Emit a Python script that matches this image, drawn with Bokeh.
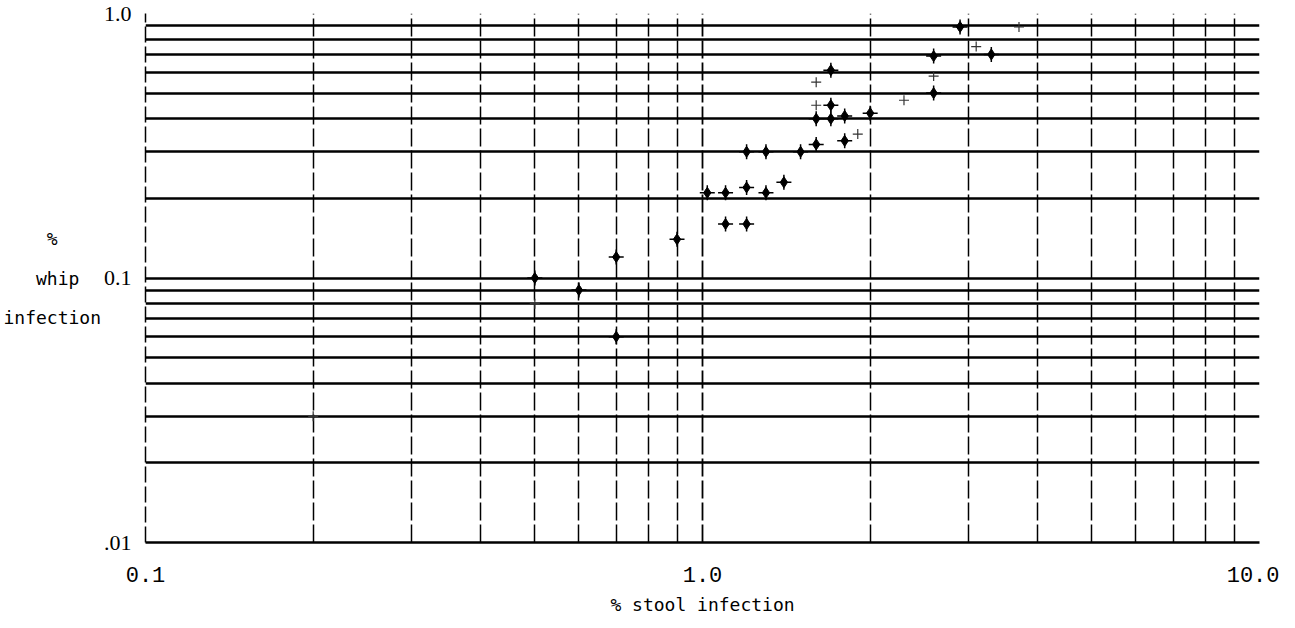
from bokeh.plotting import figure
from bokeh.models import FixedTicker, Range1d, ColumnDataSource
from bokeh.embed import file_html
from bokeh.resources import INLINE

# ---- data ----
x_ticks = [0.1, 1.0, 10.0]
x_tick_labels = ["0.1", "1.0", "10.0"]
y_ticks = [0.01, 0.1, 1.0]
y_tick_labels = [".01", "0.1", "1.0"]
x_minor = [0.2, 0.3, 0.4, 0.5, 0.6, 0.7, 0.8, 0.9, 2, 3, 4, 5, 6, 7, 8, 9]
y_minor = [0.02, 0.03, 0.04, 0.05, 0.06, 0.07, 0.08, 0.09,
           0.2, 0.3, 0.4, 0.5, 0.6, 0.7, 0.8, 0.9]

stool_dark = [0.5, 0.6, 0.7, 0.7, 0.9, 1.1, 1.2, 1.02, 1.1, 1.2, 1.3, 1.4,
              1.2, 1.3, 1.5, 1.6, 1.8, 1.6, 1.7, 1.8, 2.0, 1.7, 1.7, 2.6,
              3.3, 2.9, 2.6]
whip_dark = [0.10, 0.09, 0.12, 0.06, 0.14, 0.16, 0.16, 0.21, 0.21, 0.22, 0.21, 0.23,
             0.30, 0.30, 0.30, 0.32, 0.33, 0.40, 0.40, 0.41, 0.42, 0.45, 0.61, 0.69,
             0.70, 0.89, 0.50]

stool_faint = [0.2, 0.5, 1.9, 2.3, 2.6, 3.7, 3.1, 1.6, 1.6]
whip_faint = [0.03, 0.08, 0.35, 0.47, 0.58, 0.89, 0.75, 0.45, 0.55]

x_title = "% stool infection"
NB = "\u00a0"
y_title = "\n".join([NB * 4 + "%" + NB * 4,
                     NB * 3 + "whip" + NB * 2,
                     "infection"])

# ---- figure ----
p = figure(width=1279, height=620, x_axis_type="log", y_axis_type="log",
           x_range=Range1d(0.1, 10), y_range=Range1d(0.01, 1),
           output_backend="svg", toolbar_location=None,
           min_border_left=138, min_border_right=20,
           min_border_top=13, min_border_bottom=78)
p.outline_line_color = None
p.background_fill_color = "white"

p.xaxis.ticker = FixedTicker(ticks=x_ticks, minor_ticks=x_minor)
p.yaxis.ticker = FixedTicker(ticks=y_ticks, minor_ticks=y_minor)
p.xaxis.major_label_overrides = dict(zip(x_ticks, x_tick_labels))
p.yaxis.major_label_overrides = dict(zip(y_ticks, y_tick_labels))

for ax in (p.xaxis, p.yaxis):
    ax.major_tick_line_color = None
    ax.minor_tick_line_color = None
    ax.major_label_text_color = "black"
    ax.axis_label_text_color = "black"
    ax.axis_label_text_font_style = "normal"
    ax.axis_label_text_font = "DejaVu Sans Mono"
    ax.axis_label_text_font_size = "18px"

p.xaxis.axis_label = x_title
p.xaxis.axis_label_standoff = 9
p.xaxis.major_label_text_font = "Liberation Mono"
p.xaxis.major_label_text_font_size = "22px"
p.xaxis.major_label_standoff = 18
p.xaxis.axis_line_color = "black"
p.xaxis.axis_line_width = 2.5

p.yaxis.axis_label = y_title
p.yaxis.axis_label_orientation = "horizontal"
p.yaxis.axis_label_text_line_height = 1.9
p.yaxis.axis_label_standoff = 0
p.yaxis.major_label_text_font = "Liberation Serif"
p.yaxis.major_label_text_font_size = "22px"
p.yaxis.major_label_standoff = 8
p.yaxis.axis_line_color = "black"
p.yaxis.axis_line_width = 1.5
p.yaxis.axis_line_dash = "16 4"

# horizontal ruling: heavy solid lines
p.ygrid.grid_line_color = "black"
p.ygrid.grid_line_width = 2.5
p.ygrid.minor_grid_line_color = "black"
p.ygrid.minor_grid_line_width = 2.5

# vertical ruling: broken lines
p.xgrid.grid_line_color = "black"
p.xgrid.grid_line_width = 1.8
p.xgrid.grid_line_dash = "18 4"
p.xgrid.minor_grid_line_color = "black"
p.xgrid.minor_grid_line_width = 1.5
p.xgrid.minor_grid_line_dash = "18 4"

src_d = ColumnDataSource(dict(x=stool_dark, y=whip_dark))
src_f = ColumnDataSource(dict(x=stool_faint, y=whip_faint))

p.scatter("x", "y", source=src_d, marker="diamond", size=11,
          fill_color="black", line_color="black")
p.scatter("x", "y", source=src_d, marker="cross", size=15,
          line_color="black", line_width=1.5)
p.scatter("x", "y", source=src_f, marker="cross", size=10,
          line_color="#333333", line_width=1.2)

open("out.html", "w").write(file_html(p, INLINE))
